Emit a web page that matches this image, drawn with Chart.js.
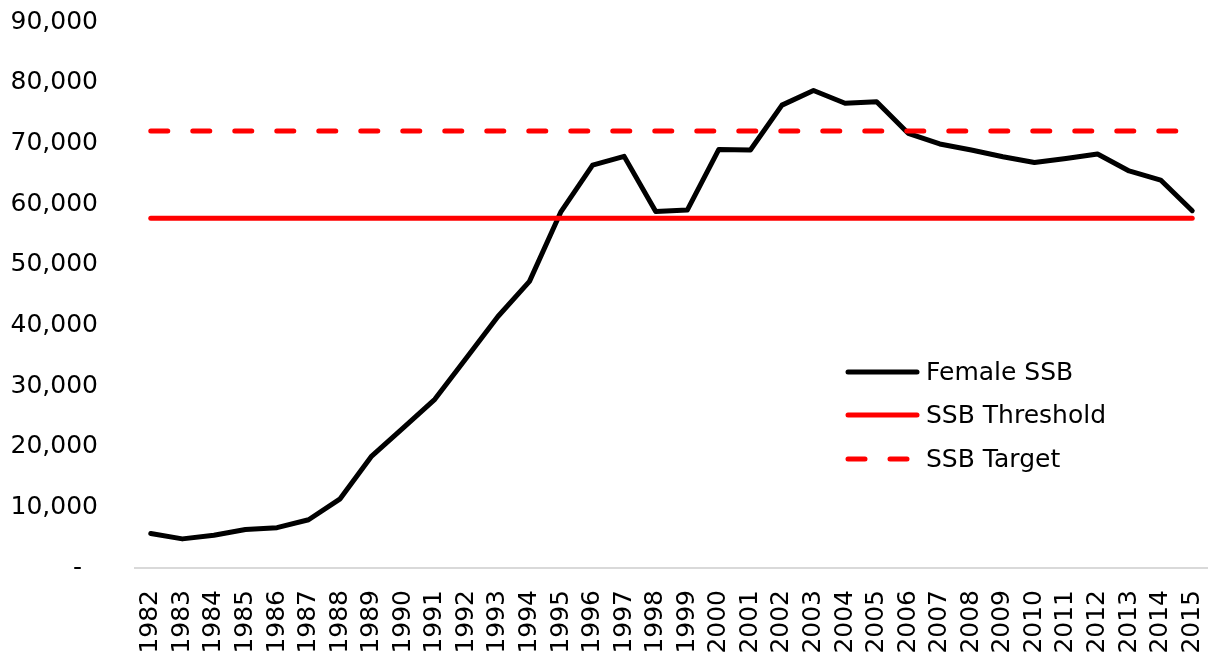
<!DOCTYPE html>
<html lang="en">
<head>
  <meta charset="UTF-8" />
  <title>Female SSB</title>
  <script src="https://cdn.jsdelivr.net/npm/chart.js"></script>
  <style>
    body {
      margin: 0;
      background: #ffffff;
    }
    .chart-container {
      position: relative;
      width: 1208px;
      height: 656px;
    }
  </style>
</head>
<body>
  <div class="chart-container">
    <canvas id="ssbChart"></canvas>
  </div>

  <script>
    // Data
    const years = ['1982', '1983', '1984', '1985', '1986', '1987', '1988', '1989', '1990', '1991',
                   '1992', '1993', '1994', '1995', '1996', '1997', '1998', '1999', '2000', '2001',
                   '2002', '2003', '2004', '2005', '2006', '2007', '2008', '2009', '2010', '2011',
                   '2012', '2013', '2014', '2015'];
    const femaleSSB = [5700, 4800, 5400, 6350, 6650, 7950, 11400, 18450, 23100, 27800,
                       34600, 41450, 47250, 58750, 66400, 67850, 58750, 59000, 69000, 68900,
                       76300, 78700, 76600, 76850, 71650, 69900, 68900, 67800, 66850, 67500,
                       68250, 65450, 63950, 58900];
    const ssbThreshold = 57650;
    const ssbTarget = 72050;
    const seriesNames = ['Female SSB', 'SSB Threshold', 'SSB Target'];

    const FONT = "'DejaVu Sans', sans-serif";

    // legend drawn inside the plot, like the original
    const insideLegend = {
      id: 'insideLegend',
      afterDraw(chart) {
        const ctx = chart.ctx;
        const x0 = 848, x1 = 917, tx = 926;
        const rows = [372, 415, 459];
        chart.data.datasets.forEach((ds, i) => {
          const y = rows[i];
          ctx.save();
          ctx.strokeStyle = ds.borderColor;
          ctx.lineWidth = ds.borderWidth;
          ctx.lineCap = 'round';
          ctx.setLineDash(ds.borderDash || []);
          ctx.beginPath();
          ctx.moveTo(x0, y);
          ctx.lineTo(x1, y);
          ctx.stroke();
          ctx.setLineDash([]);
          ctx.fillStyle = '#000000';
          ctx.font = '25px ' + FONT;
          ctx.textBaseline = 'middle';
          ctx.textAlign = 'left';
          ctx.fillText(ds.label, tx, y + 1);
          ctx.restore();
        });
      }
    };

    const ctx = document.getElementById('ssbChart').getContext('2d');
    const ssbChart = new Chart(ctx, {
      type: 'line',
      data: {
        labels: years,
        datasets: [
          {
            label: seriesNames[0],
            data: femaleSSB,
            borderColor: '#000000',
            borderWidth: 5,
            order: 2
          },
          {
            label: seriesNames[1],
            data: years.map(() => ssbThreshold),
            borderColor: '#ff0000',
            borderWidth: 5,
            order: 1
          },
          {
            label: seriesNames[2],
            data: years.map(() => ssbTarget),
            borderColor: '#ff0000',
            borderWidth: 5,
            borderDash: [17, 25],
            order: 0
          }
        ]
      },
      options: {
        responsive: true,
        maintainAspectRatio: false,
        animation: false,
        layout: { padding: { top: 22, right: 0, left: 0, bottom: 0 } },
        elements: {
          point: { radius: 0 },
          line: { tension: 0, borderCapStyle: 'round', borderJoinStyle: 'round' }
        },
        scales: {
          x: {
            offset: true,
            // tick marks hidden, tickLength only spaces the labels from the axis
            grid: { display: false, drawTicks: true, tickLength: 22 },
            border: { display: true, color: '#d9d9d9', width: 2 },
            ticks: {
              color: '#000000',
              font: { family: FONT, size: 25 },
              minRotation: 90,
              maxRotation: 90,
              autoSkip: false,
              padding: 0
            },
            afterFit(scale) {
              scale.height = 88;
              // plot runs to the right edge of the canvas
              scale.paddingRight = 0;
              scale.paddingLeft = 0;
            }
          },
          y: {
            min: 0,
            max: 90000,
            grid: { display: false, drawTicks: true, tickLength: 37 },
            border: { display: false },
            ticks: {
              stepSize: 10000,
              color: '#000000',
              font: { family: FONT, size: 25 },
              padding: 0,
              callback: function(value) {
                return value === 0 ? '-  ' : value.toLocaleString('en-US');
              }
            },
            afterFit(scale) { scale.width = 135; }
          }
        },
        plugins: {
          legend: { display: false },
          tooltip: { enabled: false }
        }
      },
      plugins: [insideLegend]
    });
  </script>
</body>
</html>
